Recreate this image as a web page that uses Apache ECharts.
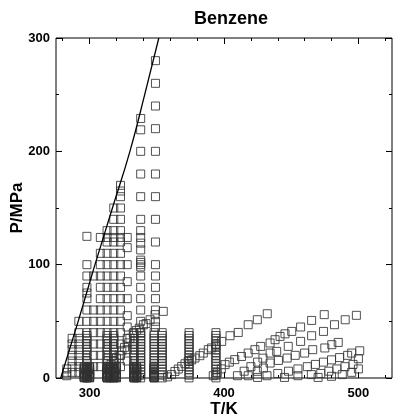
<!DOCTYPE html>
<html><head><meta charset="utf-8">
<script src="https://cdn.jsdelivr.net/npm/echarts@6/dist/echarts.min.js"></script>
<style>html,body{margin:0;padding:0;background:#fff}#c{width:396px;height:416px}</style>
</head><body><div id="c"></div>
<script>
// Tick labels
const xTickLabels = [300, 400, 500];
const xMinorTicks = [280, 300, 320, 340, 360, 380, 400, 420, 440, 460, 480, 500, 520];
const yTickLabels = [0, 100, 200, 300];

// Melting curve
const meltT = [278.5, 291.5, 304, 317, 330, 341, 351.5];
const meltP = [0, 50, 100, 150, 200, 250, 300];

// Isotherms (T) with pressure lists (MPa)
const ladderP = [0.1, 2.5, 5, 7.5, 10, 12.5, 15, 17.5, 20, 22.5, 25, 27.5, 30, 32.5, 35, 37.5, 40];
const ladderT = [298, 313, 318, 333, 338, 348, 354, 374, 394];
const denseP = [0.1, 0.5, 1, 1.5, 2, 3, 4, 5, 6, 7, 8, 9, 10];
const denseT = [296, 298, 300, 313, 315, 318, 320, 333, 335, 348];
const iso283 = [2, 5, 8];
const iso287 = [5, 10, 15, 20, 25, 30, 35];
const iso292 = [5, 10, 15, 20, 25, 30, 35, 40, 50];
const iso298 = [50, 60, 70, 75, 80, 90, 100, 125];
const iso303 = [10, 20, 30, 40, 50, 60, 90];
const iso308 = [10, 20, 30, 40, 50, 60, 70, 80, 90, 100, 110, 124];
const iso313 = [50, 60, 70, 80, 90, 100, 110, 120, 124, 130];
const iso318 = [50, 60, 70, 80, 90, 100, 110, 120, 124, 130, 140, 150];
const iso323 = [10, 20, 30, 40, 50, 60, 70, 80, 90, 100, 110, 120, 124, 130, 140, 150, 160, 165, 170];
const iso328 = [15, 25, 35, 45, 55, 70, 85, 100, 115, 124];
const iso338 = [40, 50, 60, 70, 80, 90, 98, 100, 102, 104, 113, 119, 124, 130, 140, 160, 180, 200, 219, 229];
const iso349 = [45, 50, 60, 70, 80, 90, 100, 120, 140, 160, 180, 200, 220, 240, 260, 280];

// Isochores: [T, P] pairs
const isochore1 = [[316,12],[318,15],[320,17.6],[322,20],[324,24],[326,27],[328,31],[330,35],[332.5,39.7],[335,42],[337,44],[340,47],[342,48],[345,51.4],[348.7,55.9],[354.8,58.8]];
const isochore2 = [[358,1],[361,3],[363.5,5.8],[366,7.9],[368.5,10.2],[371,12.6],[373.4,14.7],[376,16],[378.4,17.6],[382,19.7],[384.6,22],[388.3,25],[390.8,26.5],[394,29],[398.3,32.3],[404.5,37.3],[410.6,40.2],[418,47],[424.8,51.4],[432.2,56.7]];
const isochore3 = [[392,2],[395,4.5],[398,8],[400.8,11.8],[404,14],[408,16.2],[413,19],[418,22],[423,25],[427.3,27.9],[434.3,30.9],[438,33.8],[441.7,36.7],[445.4,39],[450.4,41.1],[457,45],[465.2,50.8],[474.6,55.9]];
const isochore4 = [[410,2],[415,6],[420,10],[425,14],[429,17.5],[434.3,22],[439.2,23.5],[447.8,27.9],[457,32.3],[465.2,37.3],[474,41.1],[482.2,47],[490.2,51.4],[498.5,55.3]];
const isochore5 = [[418,2],[424.8,5.9],[429.3,8.8],[434.3,13.2],[440.5,15.5],[447,17.6],[453,20],[460,22],[466,25],[475,26.5],[480.2,29.4],[485,31.4]];
const isochore6 = [[425,0.5],[432,2],[440,4],[448,6],[455,8],[462,10],[468,12],[474,14],[480,16],[486,18],[492,20],[495,22],[501,24]];
const isochore7 = [[445,0.5],[455,2],[465,3],[472,4],[478,6],[484,8],[490,10],[496,12],[500,17]];
const isochore8 = [[470,0.5],[480,1.5],[488,3],[495,5],[500,8]];

const pts = [];
ladderT.forEach(t => ladderP.forEach(p => pts.push([t, p])));
denseT.forEach(t => denseP.forEach(p => pts.push([t, p])));
[[283, iso283],[287, iso287],[292, iso292],[298, iso298],[303, iso303],[308, iso308],[313, iso313],[318, iso318],[323, iso323],[328, iso328],[338, iso338],[349, iso349]]
  .forEach(([t, arr]) => arr.forEach(p => pts.push([t, p])));
[isochore1, isochore2, isochore3, isochore4, isochore5, isochore6, isochore7, isochore8].forEach(a => a.forEach(d => pts.push(d)));

const FONT = 'Liberation Sans, Arial, sans-serif';
const tickStyle = {color: '#000', width: 1};
function xAxis(pos, major) {
  return {
    type: 'value', min: 275, max: 525, position: pos, gridIndex: 0,
    axisLine: {show: false}, splitLine: {show: false},
    axisTick: {show: true, inside: true, length: major ? 6 : 3, customValues: major ? xTickLabels : xMinorTicks, lineStyle: tickStyle},
    axisLabel: (major && pos === 'bottom') ? {show: true, customValues: xTickLabels, color: '#000', fontWeight: 'bold', fontSize: 13, fontFamily: FONT, margin: 9} : {show: false},
    name: (major && pos === 'bottom') ? 'T/K' : '', nameLocation: 'middle', nameGap: 23, nameMoveOverlap: false,
    nameTextStyle: {color: '#000', fontWeight: 'bold', fontSize: 17, fontFamily: FONT}
  };
}
function yAxis(pos) {
  return {
    type: 'value', min: 0, max: 300, interval: 100, position: pos, gridIndex: 0,
    axisLine: {show: false}, splitLine: {show: false},
    axisTick: {show: true, inside: true, length: 6, lineStyle: tickStyle},
    minorTick: {show: true, splitNumber: 2, length: 3, lineStyle: tickStyle},
    axisLabel: pos === 'left' ? {show: true, color: '#000', fontWeight: 'bold', fontSize: 13, fontFamily: FONT, margin: 6} : {show: false},
    name: pos === 'left' ? 'P/MPa' : '', nameLocation: 'middle', nameGap: 30, nameRotate: 90, nameMoveOverlap: false,
    nameTextStyle: {color: '#000', fontWeight: 'bold', fontSize: 17, fontFamily: FONT}
  };
}

const chart = echarts.init(document.getElementById('c'), null, {renderer: 'canvas'});
chart.setOption({
  animation: false,
  backgroundColor: '#fff',
  title: {text: 'Benzene', left: 226, top: 5, textAlign: 'center', textStyle: {fontSize: 18, fontWeight: 'bold', color: '#000', fontFamily: FONT}},
  grid: {left: 56, right: 4, top: 38, bottom: 38, show: true, borderColor: '#000', borderWidth: 1, backgroundColor: 'transparent', containLabel: false, outerBoundsMode: 'none'},
  xAxis: [xAxis('bottom', true), xAxis('bottom', false), xAxis('top', true), xAxis('top', false)],
  yAxis: [yAxis('left'), yAxis('right')],
  series: [
    {type: 'scatter', xAxisIndex: 0, yAxisIndex: 0, symbol: 'rect', symbolSize: 8,
     itemStyle: {color: 'rgba(0,0,0,0)', borderColor: '#333', borderWidth: 1, opacity: 0.85},
     data: pts},
    {type: 'line', xAxisIndex: 0, yAxisIndex: 0, smooth: true, symbol: 'none',
     lineStyle: {color: '#000', width: 1.3},
     data: meltT.map((t, i) => [t, meltP[i]])}
  ]
});
</script></body></html>
